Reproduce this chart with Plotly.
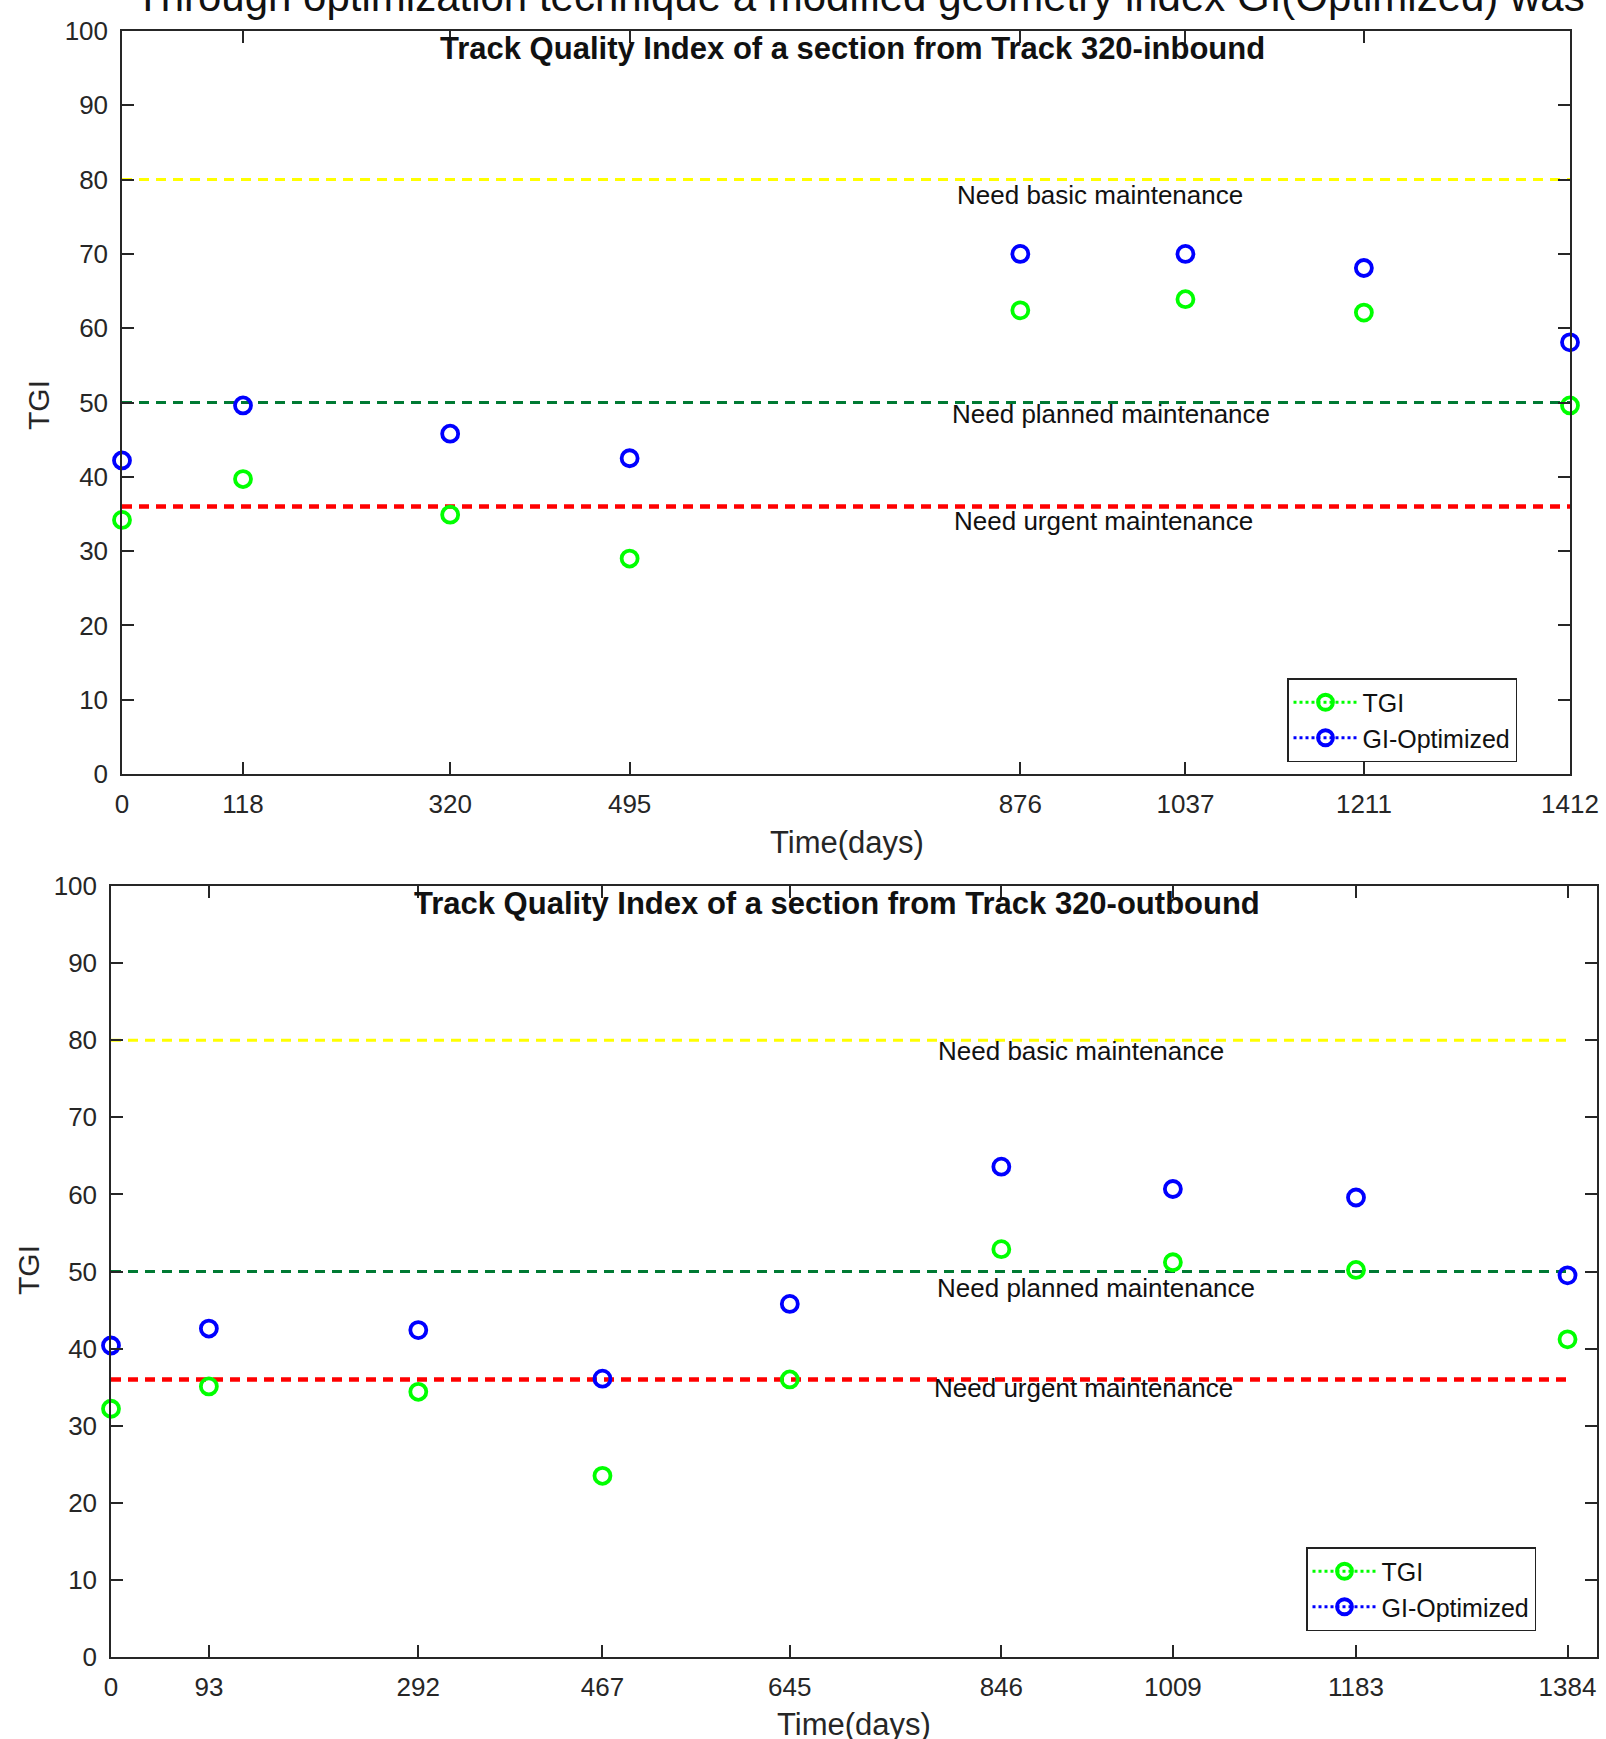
import plotly.graph_objects as go

# ---------------- data ----------------
days_in = [0, 118, 320, 495, 876, 1037, 1211, 1412]
tgi_in = [34.2, 39.7, 34.9, 29.0, 62.4, 63.9, 62.1, 49.6]
gi_opt_in = [42.2, 49.6, 45.8, 42.5, 70.0, 70.0, 68.1, 58.1]

days_out = [0, 93, 292, 467, 645, 846, 1009, 1183, 1384]
tgi_out = [32.2, 35.1, 34.4, 23.5, 36.0, 52.9, 51.2, 50.2, 41.2]
gi_opt_out = [40.4, 42.6, 42.4, 36.1, 45.8, 63.6, 60.7, 59.6, 49.5]

thresholds = [80, 50, 36]
threshold_labels = ["Need basic maintenance", "Need planned maintenance", "Need urgent maintenance"]
x_max = 1412

title_in = "Track Quality Index of a section from Track 320-inbound"
title_out = "Track Quality Index of a section from Track 320-outbound"
header_text = "Through optimization technique a modified geometry index GI(Optimized) was"

# ---------------- styling ----------------
W, H = 1606, 1739
FONT = "Liberation Sans, Arial, sans-serif"
AX = "#262626"
GREEN = "#00ff00"
BLUE = "#0000ff"
th_colors = ["#ffff00", "#007a33", "#ff0000"]
th_widths = [3, 3, 4.5]

def px(x):
    return x / W

def py(y):
    return 1 - y / H

fig = go.Figure()

panels = [
    dict(xa="x", ya="y", days=days_in, tgi=tgi_in, gi=gi_opt_in, line_end=days_in[-1],
         box=(122, 1570, 31, 774), title=title_in, title_xy=(852, 49),
         xlab_xy=(847, 843), ylab_xy=(39, 405),
         lab_pos=[(954, 77.9), (964, 48.5), (957, 34.1)],
         legend="legend", legend_xy=(1287, 678)),
    dict(xa="x2", ya="y2", days=days_out, tgi=tgi_out, gi=gi_opt_out, line_end=days_out[-1],
         box=(111, 1597, 886, 1657), title=title_out, title_xy=(837, 903),
         xlab_xy=(854, 1724), ylab_xy=(28, 1270),
         lab_pos=[(922, 78.6), (936, 47.9), (924, 34.9)],
         legend="legend2", legend_xy=(1306, 1547)),
]

annotations = []
for i, p in enumerate(panels):
    for t, c, w in zip(thresholds, th_colors, th_widths):
        fig.add_trace(go.Scatter(
            x=[0, p["line_end"]], y=[t, t], mode="lines", xaxis=p["xa"], yaxis=p["ya"],
            line=dict(color=c, width=w, dash="10px,7px"), showlegend=False, hoverinfo="skip"))
    fig.add_trace(go.Scatter(
        x=p["days"], y=p["tgi"], mode="markers", xaxis=p["xa"], yaxis=p["ya"],
        marker=dict(symbol="circle-open", size=16, color=GREEN, line=dict(width=3.8, color=GREEN)),
        showlegend=False, cliponaxis=False))
    fig.add_trace(go.Scatter(
        x=p["days"], y=p["gi"], mode="markers", xaxis=p["xa"], yaxis=p["ya"],
        marker=dict(symbol="circle-open", size=16, color=BLUE, line=dict(width=3.8, color=BLUE)),
        showlegend=False, cliponaxis=False))
    for name, col in (("TGI", GREEN), ("GI-Optimized", BLUE)):
        fig.add_trace(go.Scatter(
            x=[None], y=[None], mode="lines+markers", name=name, xaxis=p["xa"], yaxis=p["ya"],
            line=dict(color=col, width=3, dash="dot"),
            marker=dict(symbol="circle-open", size=15, color=col, line=dict(width=3.8, color=col)),
            legend=p["legend"]))

    for lab, (lx, ly) in zip(threshold_labels, p["lab_pos"]):
        annotations.append(dict(text=lab, x=lx, y=ly, xref=p["xa"], yref=p["ya"],
                                xanchor="center", yanchor="middle",
                                showarrow=False, font=dict(family=FONT, size=26, color="#111")))
    annotations.append(dict(text="<b>" + p["title"] + "</b>", x=px(p["title_xy"][0]), y=py(p["title_xy"][1]),
                            xref="paper", yref="paper", xanchor="center", yanchor="middle", showarrow=False,
                            font=dict(family=FONT, size=31, color="#111")))
    annotations.append(dict(text="Time(days)", x=px(p["xlab_xy"][0]), y=py(p["xlab_xy"][1]),
                            xref="paper", yref="paper", xanchor="center", yanchor="middle", showarrow=False,
                            font=dict(family=FONT, size=31, color=AX)))
    annotations.append(dict(text="TGI", x=px(p["ylab_xy"][0]), y=py(p["ylab_xy"][1]),
                            xref="paper", yref="paper", xanchor="center", yanchor="middle",
                            showarrow=False, textangle=-90,
                            font=dict(family=FONT, size=30, color=AX)))

annotations.append(dict(text=header_text, x=px(133), y=py(22), xref="paper", yref="paper",
                        xanchor="left", yanchor="bottom", showarrow=False,
                        font=dict(family=FONT, size=42, color="#111")))

axis_common = dict(showline=True, linecolor=AX, linewidth=1.5, mirror="ticks", ticks="inside",
                   ticklen=12, tickwidth=1.5, tickcolor=AX, showgrid=False, zeroline=False,
                   automargin=False, tickfont=dict(family=FONT, size=26, color=AX))

layout_axes = {}
for i, p in enumerate(panels):
    x0, x1, y0, y1 = p["box"]
    suffix = "" if i == 0 else "2"
    layout_axes["xaxis" + suffix] = dict(
        axis_common, domain=[px(x0), px(x1)], range=[0, x_max],
        tickvals=p["days"], ticktext=[str(d) for d in p["days"]],
        anchor="y" + suffix, ticklabelstandoff=6)
    layout_axes["yaxis" + suffix] = dict(
        axis_common, domain=[py(y1), py(y0)], range=[0, 100], dtick=10,
        anchor="x" + suffix, ticklabelstandoff=7)

legend_style = dict(bgcolor="white", bordercolor="#222", borderwidth=1.5,
                    font=dict(family=FONT, size=25, color="#111"),
                    xanchor="left", yanchor="top", tracegroupgap=0, itemwidth=64)

fig.update_layout(
    width=W, height=H, margin=dict(l=0, r=0, t=0, b=0, autoexpand=False),
    paper_bgcolor="white", plot_bgcolor="white",
    annotations=annotations,
    legend=dict(legend_style, x=px(panels[0]["legend_xy"][0]), y=py(panels[0]["legend_xy"][1])),
    legend2=dict(legend_style, x=px(panels[1]["legend_xy"][0]), y=py(panels[1]["legend_xy"][1])),
    **layout_axes,
)

fig.write_html("out.html", config={"displayModeBar": False},
               post_script="document.body.style.margin='0px';")
